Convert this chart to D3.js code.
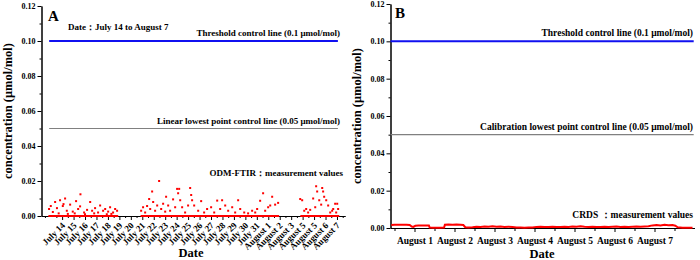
<!DOCTYPE html>
<html>
<head>
<meta charset="utf-8">
<script src="https://cdn.jsdelivr.net/npm/d3@7"></script>
<style>
  body { margin: 0; background: #fff; }
  text { font-family: "Liberation Serif", "Times New Roman", serif; font-weight: bold; }
  .axis path, .axis line { stroke: #000; stroke-width: 1; }
</style>
</head>
<body>
<div id="chart-area"></div>
<script>
// ---- data ----
// panel A: days counted from July 14 (0 = July 14)
var dayLabelsA = ["July 14", "July 15", "July 16", "July 17", "July 18", "July 19", "July 20",
  "July 21", "July 22", "July 23", "July 24", "July 25", "July 26", "July 27", "July 28",
  "July 29", "July 30", "July 31", "August 1", "August 2", "August 3", "August 5",
  "August 5", "August 6", "August 7"];
var dayLabelsB = ["August 1", "August 2", "August 3", "August 4", "August 5", "August 6", "August 7"];
var yTicks = [0, 0.02, 0.04, 0.06, 0.08, 0.10, 0.12];

var thresholdValue = 0.1;
var calibrationValue = 0.05;

// ODM-FTIR readings at zero (measurement periods)
var ftirZeroRuns = [[-1.2, 4.9], [6.85, 18.95], [20.8, 24.2]];
// ODM-FTIR non-zero readings [day, value]
var ftirPoints = [
  [-1.14, 0.004], [-0.99, 0.0057], [-0.81, 0.0023], [-0.61, 0.008], [-0.45, 0.0045],
  [-0.3, 0.0015], [-0.18, 0.009], [0.06, 0.0057], [0.12, 0.0068], [0.26, 0.010],
  [0.41, 0.003], [0.5, 0.0012], [0.7, 0.0065], [0.93, 0.0025], [1.1, 0.0015],
  [1.22, 0.0085], [1.4, 0.004], [1.57, 0.0055], [1.6, 0.0124], [1.92, 0.002],
  [2.0, 0.001], [2.18, 0.0035], [2.45, 0.008], [2.62, 0.003], [2.8, 0.0015],
  [2.88, 0.0045], [3.14, 0.002], [3.32, 0.006], [3.58, 0.003], [3.76, 0.004],
  [3.9, 0.001], [4.02, 0.0025], [4.19, 0.005], [4.3, 0.0012], [4.45, 0.002],
  [4.63, 0.004], [4.8, 0.003],
  [6.9, 0.003], [7.07, 0.005], [7.25, 0.002], [7.42, 0.0057], [7.6, 0.0097],
  [7.69, 0.004], [7.86, 0.014], [7.95, 0.008], [8.12, 0.003], [8.3, 0.006],
  [8.47, 0.020], [8.65, 0.004], [8.82, 0.007], [9.0, 0.0025], [9.08, 0.011],
  [9.26, 0.006], [9.43, 0.003], [9.69, 0.0095], [9.87, 0.005], [10.04, 0.0155],
  [10.13, 0.013], [10.22, 0.0155], [10.31, 0.009], [10.48, 0.005], [10.74, 0.002],
  [11.0, 0.006], [11.18, 0.016], [11.27, 0.012], [11.35, 0.009], [11.53, 0.006],
  [11.88, 0.003], [12.14, 0.0085], [12.4, 0.002], [12.66, 0.004], [13.01, 0.005],
  [13.28, 0.002], [13.54, 0.0088], [13.8, 0.004], [13.97, 0.009], [14.24, 0.006],
  [14.5, 0.003], [14.85, 0.005], [15.11, 0.002], [15.37, 0.009], [15.55, 0.004],
  [15.9, 0.002], [16.24, 0.0015], [16.59, 0.003], [16.86, 0.002], [17.03, 0.004],
  [17.29, 0.0087], [17.55, 0.013], [17.73, 0.003], [17.99, 0.005], [18.17, 0.006],
  [18.34, 0.011], [18.6, 0.0065], [18.86, 0.0075],
  [20.79, 0.0097], [20.96, 0.009], [21.14, 0.003], [21.31, 0.004], [21.48, 0.002],
  [21.66, 0.0035], [21.92, 0.010], [22.1, 0.005], [22.18, 0.017], [22.27, 0.014],
  [22.45, 0.009], [22.62, 0.0065], [22.71, 0.016], [22.79, 0.014], [22.88, 0.011],
  [23.06, 0.009], [23.23, 0.006], [23.41, 0.002], [23.58, 0.003], [23.67, 0.004],
  [23.84, 0.007], [23.93, 0.002], [24.02, 0.007], [24.1, 0.004]
];
var controlExtentA = [-1.13, 24.08];

// CRDS readings [day of August, value]
var crdsPoints = [
  [0.42, 0.0016], [0.5, 0.0017], [0.6, 0.0017], [0.7, 0.0018], [0.8, 0.0017], [0.88, 0.0016],
  [0.93, 0.0008], [0.97, 0.0006], [1.02, 0.0012], [1.1, 0.0013], [1.2, 0.0013], [1.3, 0.0014],
  [1.36, 0.0013], [1.38, 0.0002], [1.45, 0.0001], [1.55, 0.0002], [1.65, 0.0001], [1.74, 0.0002],
  [1.76, 0.0018], [1.85, 0.0019], [1.95, 0.0018], [2.05, 0.0019], [2.15, 0.0018], [2.22, 0.0016],
  [2.27, 0.0004], [2.35, 0.0003], [2.45, 0.0004], [2.55, 0.0007], [2.65, 0.0006], [2.75, 0.0008],
  [2.85, 0.0007], [2.95, 0.0009], [3.05, 0.0007], [3.15, 0.0008], [3.25, 0.0006], [3.35, 0.0007],
  [3.45, 0.0005], [3.55, 0.0003], [3.65, 0.0003], [3.75, 0.0002], [3.85, 0.0003], [3.95, 0.0003],
  [4.05, 0.0006], [4.15, 0.0007], [4.25, 0.0005], [4.35, 0.0006], [4.45, 0.0007], [4.55, 0.0005],
  [4.65, 0.0006], [4.75, 0.0007], [4.85, 0.0006], [4.95, 0.0008], [5.05, 0.0007], [5.15, 0.0009],
  [5.25, 0.0007], [5.35, 0.0006], [5.45, 0.0007], [5.55, 0.0005], [5.65, 0.0006], [5.75, 0.0007],
  [5.85, 0.0006], [5.95, 0.0007], [6.05, 0.0008], [6.15, 0.0006], [6.25, 0.0007], [6.35, 0.0006],
  [6.45, 0.0007], [6.55, 0.0008], [6.65, 0.0007], [6.75, 0.0008], [6.85, 0.0009], [6.95, 0.0014],
  [7.05, 0.0016], [7.15, 0.0013], [7.25, 0.0017], [7.35, 0.0015], [7.45, 0.0016], [7.52, 0.0012],
  [7.58, 0.0004], [7.7, 0.0002], [7.8, 0.0002], [7.95, 0.0001]
];

// ---- svg ----
var svg = d3.select("#chart-area")
  .append("svg")
  .attr("width", 700)
  .attr("height", 260);

var fmt = d3.format(".2f");
var minorY = [0.01, 0.03, 0.05, 0.07, 0.09, 0.11];

function drawYAxis(x0, y) {
  svg.append("g")
    .attr("class", "axis")
    .attr("transform", "translate(" + x0 + ",0)")
    .call(d3.axisLeft(y).tickValues(minorY).tickSize(2).tickFormat("").tickSizeOuter(0));
  var ax = svg.append("g")
    .attr("class", "axis")
    .attr("transform", "translate(" + x0 + ",0)")
    .call(d3.axisLeft(y).tickValues(yTicks).tickSize(4).tickPadding(2).tickFormat(fmt).tickSizeOuter(0));
  ax.selectAll("text").attr("font-size", "8px").attr("fill", "#000");
}

// ================= Panel A =================
var xA = d3.scaleLinear().domain([-1.8, 24.7]).range([41.5, 345]);
var yA = d3.scaleLinear().domain([0, 0.12]).range([216, 6]);

drawYAxis(41.5, yA);

var dayIdxA = d3.range(dayLabelsA.length);
svg.append("g")
  .attr("class", "axis")
  .attr("transform", "translate(0,216)")
  .call(d3.axisBottom(xA).tickValues(dayIdxA.map(d => d + 0.5).concat([-0.5, -1.5]))
    .tickSize(2).tickFormat("").tickSizeOuter(0));
var xAxA = svg.append("g")
  .attr("class", "axis")
  .attr("transform", "translate(0,216)")
  .call(d3.axisBottom(xA).tickValues(dayIdxA).tickSize(4)
    .tickFormat(d => dayLabelsA[d]).tickSizeOuter(0));
xAxA.selectAll("text")
  .attr("font-size", "9px")
  .attr("fill", "#000")
  .attr("y", 0)
  .attr("dy", 0)
  .attr("text-anchor", "end")
  .attr("transform", "translate(3,10) rotate(-45)");

// control lines
svg.append("line")
  .attr("x1", xA(controlExtentA[0])).attr("x2", xA(controlExtentA[1]))
  .attr("y1", yA(thresholdValue)).attr("y2", yA(thresholdValue))
  .attr("stroke", "#1010f0").attr("stroke-width", 2);
svg.append("line")
  .attr("x1", xA(controlExtentA[0])).attr("x2", xA(controlExtentA[1]))
  .attr("y1", yA(calibrationValue)).attr("y2", yA(calibrationValue))
  .attr("stroke", "#808080").attr("stroke-width", 1.2);

// zero readings and scatter
svg.selectAll(".zeroA")
  .data(ftirZeroRuns)
  .enter()
  .append("line")
  .attr("x1", d => xA(d[0])).attr("x2", d => xA(d[1]))
  .attr("y1", yA(0)).attr("y2", yA(0))
  .attr("stroke", "#ff0000").attr("stroke-width", 2);
svg.selectAll(".ptA")
  .data(ftirPoints)
  .enter()
  .append("rect")
  .attr("x", d => xA(d[0]) - 1)
  .attr("y", d => yA(d[1]) - 1)
  .attr("width", 2)
  .attr("height", 2)
  .attr("fill", "#ff0000");

// labels A
svg.append("text").attr("x", 48).attr("y", 20.5).attr("font-size", "15px").text("A");
svg.append("text").attr("x", 68).attr("y", 30).attr("font-size", "9px").text("Date：July 14 to August 7");
svg.append("text").attr("x", 340).attr("y", yA(thresholdValue) - 5).attr("text-anchor", "end")
  .attr("font-size", "9px").text("Threshold control line (0.1 μmol/mol)");
svg.append("text").attr("x", 340).attr("y", yA(calibrationValue) - 5).attr("text-anchor", "end")
  .attr("font-size", "9px").text("Linear lowest point control line (0.05 μmol/mol)");
svg.append("text").attr("x", 343).attr("y", 176).attr("text-anchor", "end")
  .attr("font-size", "9px").text("ODM-FTIR：measurement values");
svg.append("text").attr("x", 191).attr("y", 257).attr("text-anchor", "middle")
  .attr("font-size", "12.5px").text("Date");
svg.append("text")
  .attr("transform", "translate(12," + ((yA(0) + yA(0.12)) / 2) + ") rotate(-90)")
  .attr("text-anchor", "middle")
  .attr("font-size", "12.5px")
  .text("concentration (μmol/mol)");

// ================= Panel B =================
var xB = d3.scaleLinear().domain([0.4, 8.0]).range([390.5, 694.5]);
var yB = d3.scaleLinear().domain([0, 0.12]).range([228, 4]);

drawYAxis(390.5, yB);

var dayIdxB = d3.range(1, dayLabelsB.length + 1);
svg.append("g")
  .attr("class", "axis")
  .attr("transform", "translate(0,228)")
  .call(d3.axisBottom(xB).tickValues(d3.range(0.5, 8.01, 1)).tickSize(3).tickFormat("").tickSizeOuter(0));
var xAxB = svg.append("g")
  .attr("class", "axis")
  .attr("transform", "translate(0,228)")
  .call(d3.axisBottom(xB).tickValues(dayIdxB).tickSize(4).tickPadding(5)
    .tickFormat(d => dayLabelsB[d - 1]).tickSizeOuter(0));
xAxB.selectAll("text").attr("font-size", "9.5px").attr("fill", "#000");

svg.append("line")
  .attr("x1", xB.range()[0]).attr("x2", xB(7.98))
  .attr("y1", yB(thresholdValue)).attr("y2", yB(thresholdValue))
  .attr("stroke", "#1010f0").attr("stroke-width", 2);
svg.append("line")
  .attr("x1", xB.range()[0]).attr("x2", xB(7.98))
  .attr("y1", yB(calibrationValue)).attr("y2", yB(calibrationValue))
  .attr("stroke", "#808080").attr("stroke-width", 1.2);

var crdsLine = d3.line()
  .x(d => xB(d[0]))
  .y(d => yB(d[1]));
svg.append("path")
  .datum(crdsPoints)
  .attr("d", crdsLine)
  .attr("fill", "none")
  .attr("stroke", "#ff0000")
  .attr("stroke-width", 2);

svg.append("text").attr("x", 395).attr("y", 18).attr("font-size", "15px").text("B");
svg.append("text").attr("x", 693).attr("y", yB(thresholdValue) - 5).attr("text-anchor", "end")
  .attr("font-size", "9.5px").text("Threshold control line (0.1 μmol/mol)");
svg.append("text").attr("x", 693).attr("y", yB(calibrationValue) - 5).attr("text-anchor", "end")
  .attr("font-size", "9.5px").text("Calibration lowest point control line (0.05 μmol/mol)");
svg.append("text").attr("x", 693).attr("y", 218).attr("text-anchor", "end")
  .attr("font-size", "9.5px").text("CRDS ：measurement values");
svg.append("text").attr("x", 542).attr("y", 258).attr("text-anchor", "middle")
  .attr("font-size", "12.5px").text("Date");
svg.append("text")
  .attr("transform", "translate(361," + ((yB(0) + yB(0.12)) / 2) + ") rotate(-90)")
  .attr("text-anchor", "middle")
  .attr("font-size", "12.5px")
  .text("concentration (μmol/mol)");
</script>
</body>
</html>
